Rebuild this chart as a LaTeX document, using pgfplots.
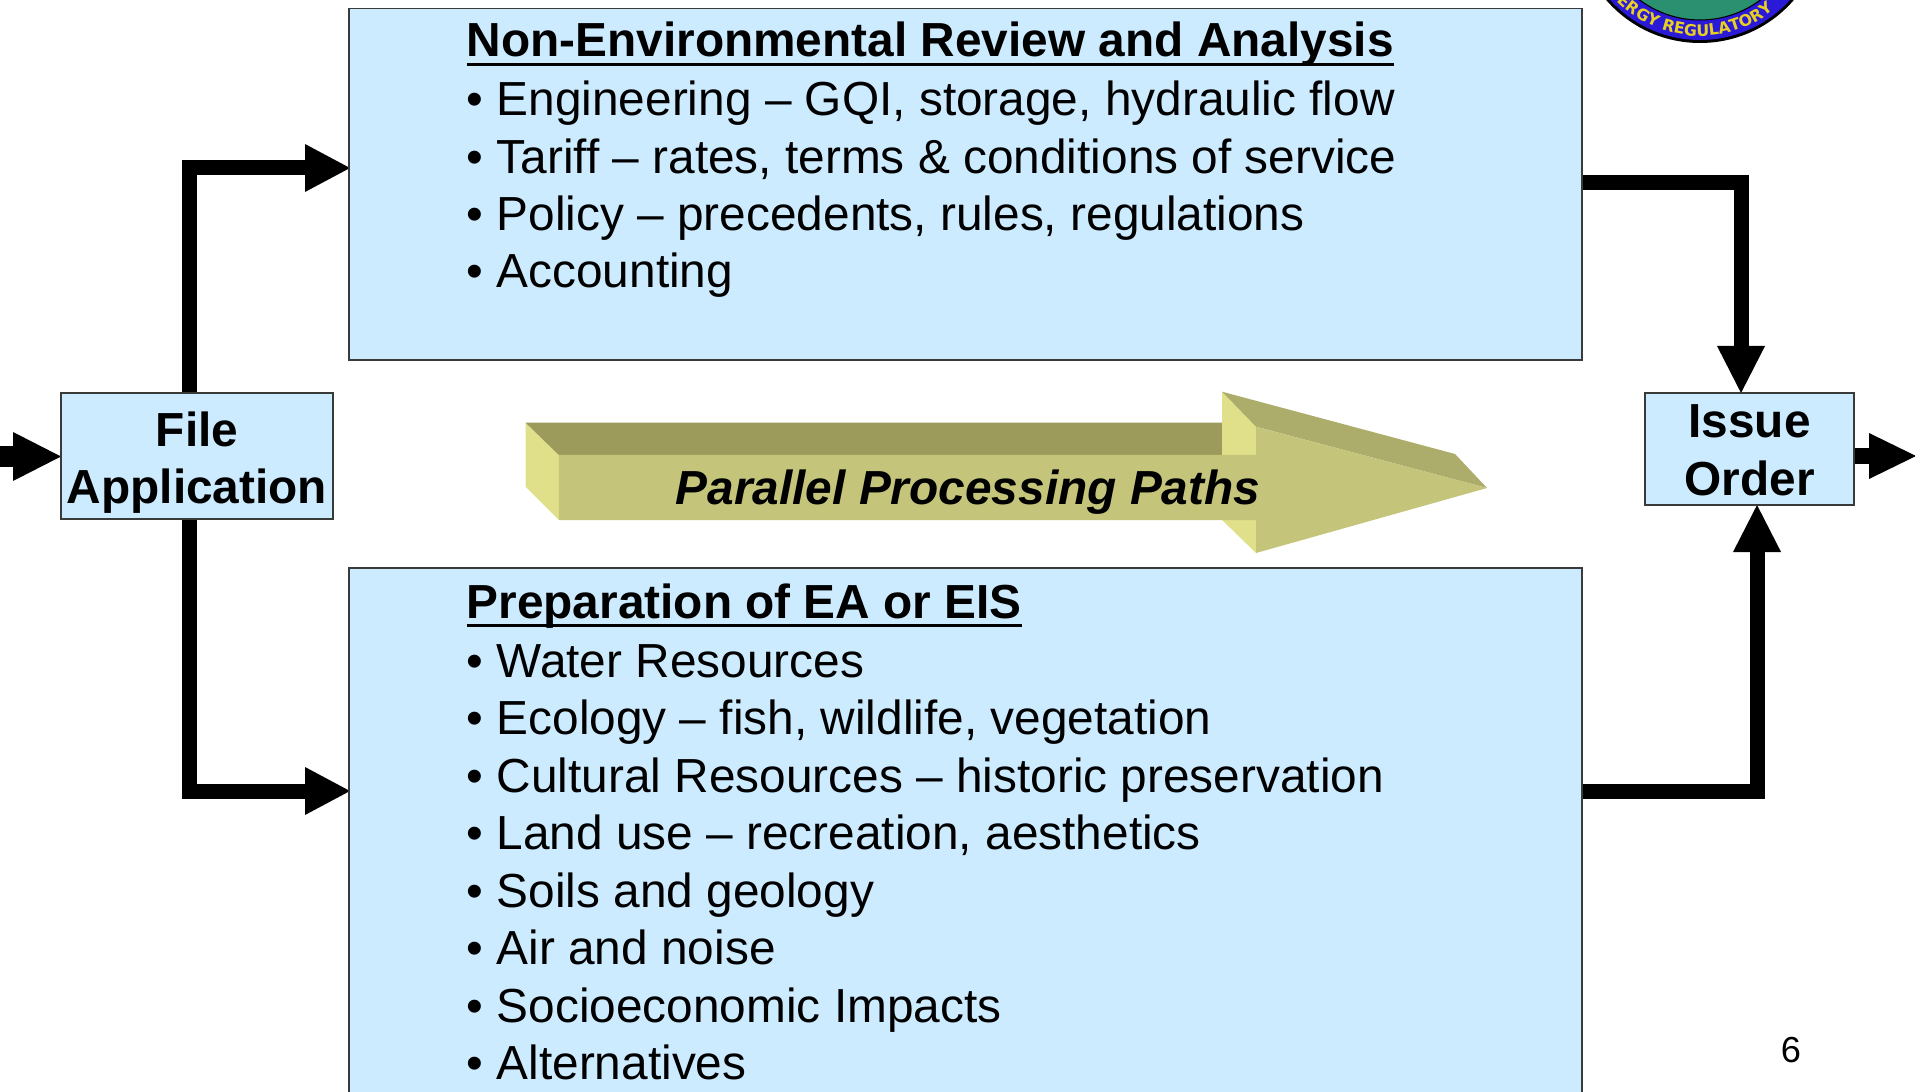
\documentclass[border=0pt]{standalone}
\usepackage{fontspec}
\setmainfont{Liberation Sans}
\newfontfamily\logofont{DejaVu Sans}
\usepackage{pgfplots}
\pgfplotsset{compat=1.18}
\usetikzlibrary{decorations.text}
\definecolor{boxblue}{HTML}{CCEBFF}
\definecolor{boxedge}{HTML}{3A3A3A}
\definecolor{olivefront}{HTML}{C4C47A}
\definecolor{olivetop}{HTML}{9C9B5B}
\definecolor{oliveside}{HTML}{E0E08A}
\definecolor{oliveheadtop}{HTML}{ADAD6B}
\definecolor{logogreen}{HTML}{2A9070}
\definecolor{logoblue}{HTML}{2A1AD8}
\definecolor{logoyellow}{HTML}{E8D020}
\newsavebox\ubox
\newcommand\ul[1]{\sbox\ubox{#1}\rlap{\rule[-2.7pt]{\wd\ubox}{1.1pt}}\usebox\ubox}
\tikzset{
  body/.style={anchor=base west, inner sep=0pt, font=\fontsize{13.6}{16}\selectfont},
  ttl/.style={anchor=base west, inner sep=0pt, font=\fontsize{13.6}{16}\selectfont\bfseries},
  lbl/.style={anchor=base, inner sep=0pt, font=\fontsize{13.6}{16}\selectfont\bfseries},
  conn/.style={line width=4.27pt, line join=miter, line cap=butt}
}
\begin{document}
\begin{tikzpicture}
\useasboundingbox (0,0) rectangle (19.15cm,10.92cm);
\clip (0,0) rectangle (19.15cm,10.92cm);
\begin{axis}[width=19.15cm, height=10.92cm, scale only axis, hide axis,
  xmin=0, xmax=1915, ymin=0, ymax=1092, y dir=reverse, clip=true,
  anchor=south west, at={(0,0)}]

% logo (partly above the page)
\fill[black] (1700,-81) circle[radius=12.4mm];
\fill[logoblue] (1700,-81) circle[radius=12.1mm];
\filldraw[fill=logogreen, draw=black, line width=0.3pt] (1700,-81) circle[radius=10.1mm];
\path[decorate, decoration={text along path, text align=center,
  text={|\logofont\fontsize{4.5}{5}\selectfont\bfseries\color{logoyellow}|ENERGY REGULATORY}}]
  (1700,-81) ++(171:11.7mm) arc[start angle=171, end angle=351, radius=11.7mm];

% connectors
\draw[conn] (189.5,393) -- (189.5,168) -- (308,168);
\draw[conn] (189.5,519) -- (189.5,791) -- (308,791);
\draw[conn] (1582,183) -- (1741,183) -- (1741,347);
\draw[conn] (1582,791) -- (1757,791) -- (1757,551);
\fill (305,144) -- (350,168) -- (305,192) -- cycle;
\fill (305,767) -- (350,791) -- (305,815) -- cycle;
\fill (1717,346) -- (1765,346) -- (1741,393) -- cycle;
\fill (1733,552) -- (1781,552) -- (1757,505) -- cycle;
% in / out arrows
\fill (0,446) rectangle (14,467);
\fill (13,432) -- (61,456.5) -- (13,481) -- cycle;
\fill (1853,448) rectangle (1870,464);
\fill (1869,433) -- (1916,456) -- (1869,479) -- cycle;

% boxes
\filldraw[fill=boxblue, draw=boxedge, line width=0.5pt] (349,8.5) rectangle (1582,360);
\filldraw[fill=boxblue, draw=boxedge, line width=0.5pt] (349,568) rectangle (1582,1110);
\filldraw[fill=boxblue, draw=boxedge, line width=0.5pt] (61,393) rectangle (333,519);
\filldraw[fill=boxblue, draw=boxedge, line width=0.5pt] (1645,393) rectangle (1854,505);

% 3D arrow
\fill[oliveside] (525.6,422.7) -- (558.8,455) -- (558.8,520) -- (525.6,486.7) -- cycle;
\fill[olivetop] (525.6,422.7) -- (1222,422.7) -- (1256,455) -- (558.8,455) -- cycle;
\fill[oliveside] (1222,391.7) -- (1256,426.7) -- (1256,553) -- (1222,520) -- cycle;
\fill[oliveheadtop] (1222,391.7) -- (1455,454) -- (1487,488) -- (1256,426.7) -- cycle;
\fill[olivefront] (558.8,455) -- (1256,455) -- (1256,426.7) -- (1487,488) -- (1256,553) -- (1256,520) -- (558.8,520) -- cycle;
\node[lbl, font=\fontsize{13.6}{16}\selectfont\bfseries\itshape] at (968,505) {Parallel Processing Paths};

% labels
\node[lbl] at (197,447) {File};
\node[lbl] at (197,503) {Application};
\node[lbl] at (1749.5,437) {Issue};
\node[lbl] at (1749.5,496) {Order};

% top box text
\node[ttl] at (466,57) {\ul{Non-Environmental Review and Analysis}};
\node[body] at (466,116) {• Engineering – GQI, storage, hydraulic flow};
\node[body] at (466,173.3) {• Tariff – rates, terms \& conditions of service};
\node[body] at (466,230.6) {• Policy – precedents, rules, regulations};
\node[body] at (466,287.9) {• Accounting};

% bottom box text
\node[ttl] at (466,618) {\ul{Preparation of EA or EIS}};
\node[body] at (466,677) {• Water Resources};
\node[body] at (466,734.5) {• Ecology – fish, wildlife, vegetation};
\node[body] at (466,792) {• Cultural Resources – historic preservation};
\node[body] at (466,849.5) {• Land use – recreation, aesthetics};
\node[body] at (466,907) {• Soils and geology};
\node[body] at (466,964.5) {• Air and noise};
\node[body] at (466,1022) {• Socioeconomic Impacts};
\node[body] at (466,1079.5) {• Alternatives};

% page number
\node[anchor=base, inner sep=0pt, font=\fontsize{10.3}{12}\selectfont] at (1791,1062) {6};
\end{axis}
\end{tikzpicture}
\end{document}
